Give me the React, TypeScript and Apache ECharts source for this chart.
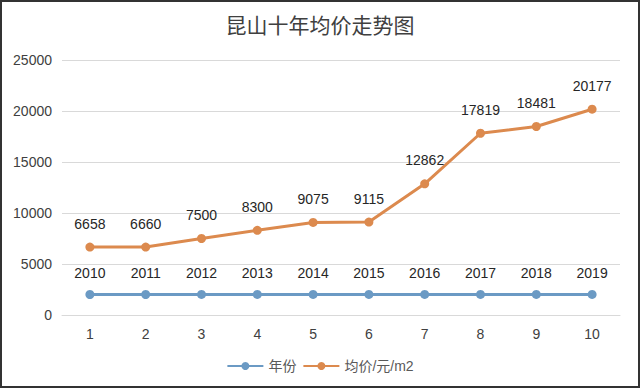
import React, { useEffect, useRef } from "react";
import * as echarts from "echarts";

const categories = ["1", "2", "3", "4", "5", "6", "7", "8", "9", "10"];
const yearValues = [2010, 2011, 2012, 2013, 2014, 2015, 2016, 2017, 2018, 2019];
const priceValues = [6658, 6660, 7500, 8300, 9075, 9115, 12862, 17819, 18481, 20177];
const seriesNames = ["年份", "均价/元/m2"];
const titleText = "昆山十年均价走势图";

const FONT = "'Liberation Sans', Arial, 'Noto Sans CJK SC', sans-serif";
const BLUE = "#6B9AC4";
const ORANGE = "#DC8A4E";

export default function App() {
  const ref = useRef<HTMLDivElement>(null);
  useEffect(() => {
    if (!ref.current) return;
    const chart = echarts.init(ref.current, null, { renderer: "svg" });
    chart.setOption({
      animation: false,
      backgroundColor: "#ffffff",
      textStyle: { fontFamily: FONT },
      title: {
        text: titleText,
        left: "center",
        top: 8,
        textStyle: { fontSize: 21, fontWeight: "normal", color: "#404040", fontFamily: "'Noto Sans CJK SC', sans-serif" },
      },
      legend: {
        bottom: 10,
        left: "center",
        itemWidth: 36,
        itemHeight: 10,
        itemGap: 6,
        textStyle: { fontSize: 14, color: "#595959", fontFamily: FONT },
        data: seriesNames,
      },
      grid: { left: 62, right: 20, top: 60, bottom: 73 },
      xAxis: {
        type: "category",
        data: categories,
        boundaryGap: true,
        axisLine: { lineStyle: { color: "#d9d9d9" } },
        axisTick: { show: false },
        axisLabel: { fontSize: 14, color: "#404040", margin: 12 },
      },
      yAxis: {
        type: "value",
        min: 0,
        max: 25000,
        interval: 5000,
        axisLine: { show: false },
        axisTick: { show: false },
        axisLabel: { fontSize: 14, color: "#404040", margin: 10, formatter: (v: number) => String(v) },
        splitLine: { lineStyle: { color: "#d9d9d9" } },
      },
      series: [
        {
          name: seriesNames[0],
          type: "line",
          data: yearValues,
          symbol: "circle",
          symbolSize: 9,
          itemStyle: { color: BLUE },
          lineStyle: { width: 3, color: BLUE },
          label: { show: true, position: "top", distance: 10, fontSize: 14, color: "#262626" },
        },
        {
          name: seriesNames[1],
          type: "line",
          data: priceValues,
          symbol: "circle",
          symbolSize: 9,
          itemStyle: { color: ORANGE },
          lineStyle: { width: 3, color: ORANGE },
          label: { show: true, position: "top", distance: 12, fontSize: 14, color: "#262626" },
        },
      ],
      graphic: [
        {
          type: "rect",
          shape: { x: 1, y: 1, width: 638, height: 386 },
          style: { fill: "none", stroke: "#333333", lineWidth: 2 },
          silent: true,
        },
      ],
    });
    return () => chart.dispose();
  }, []);
  return <div ref={ref} style={{ position: "fixed", left: 0, top: 0, width: 640, height: 388 }} />;
}
